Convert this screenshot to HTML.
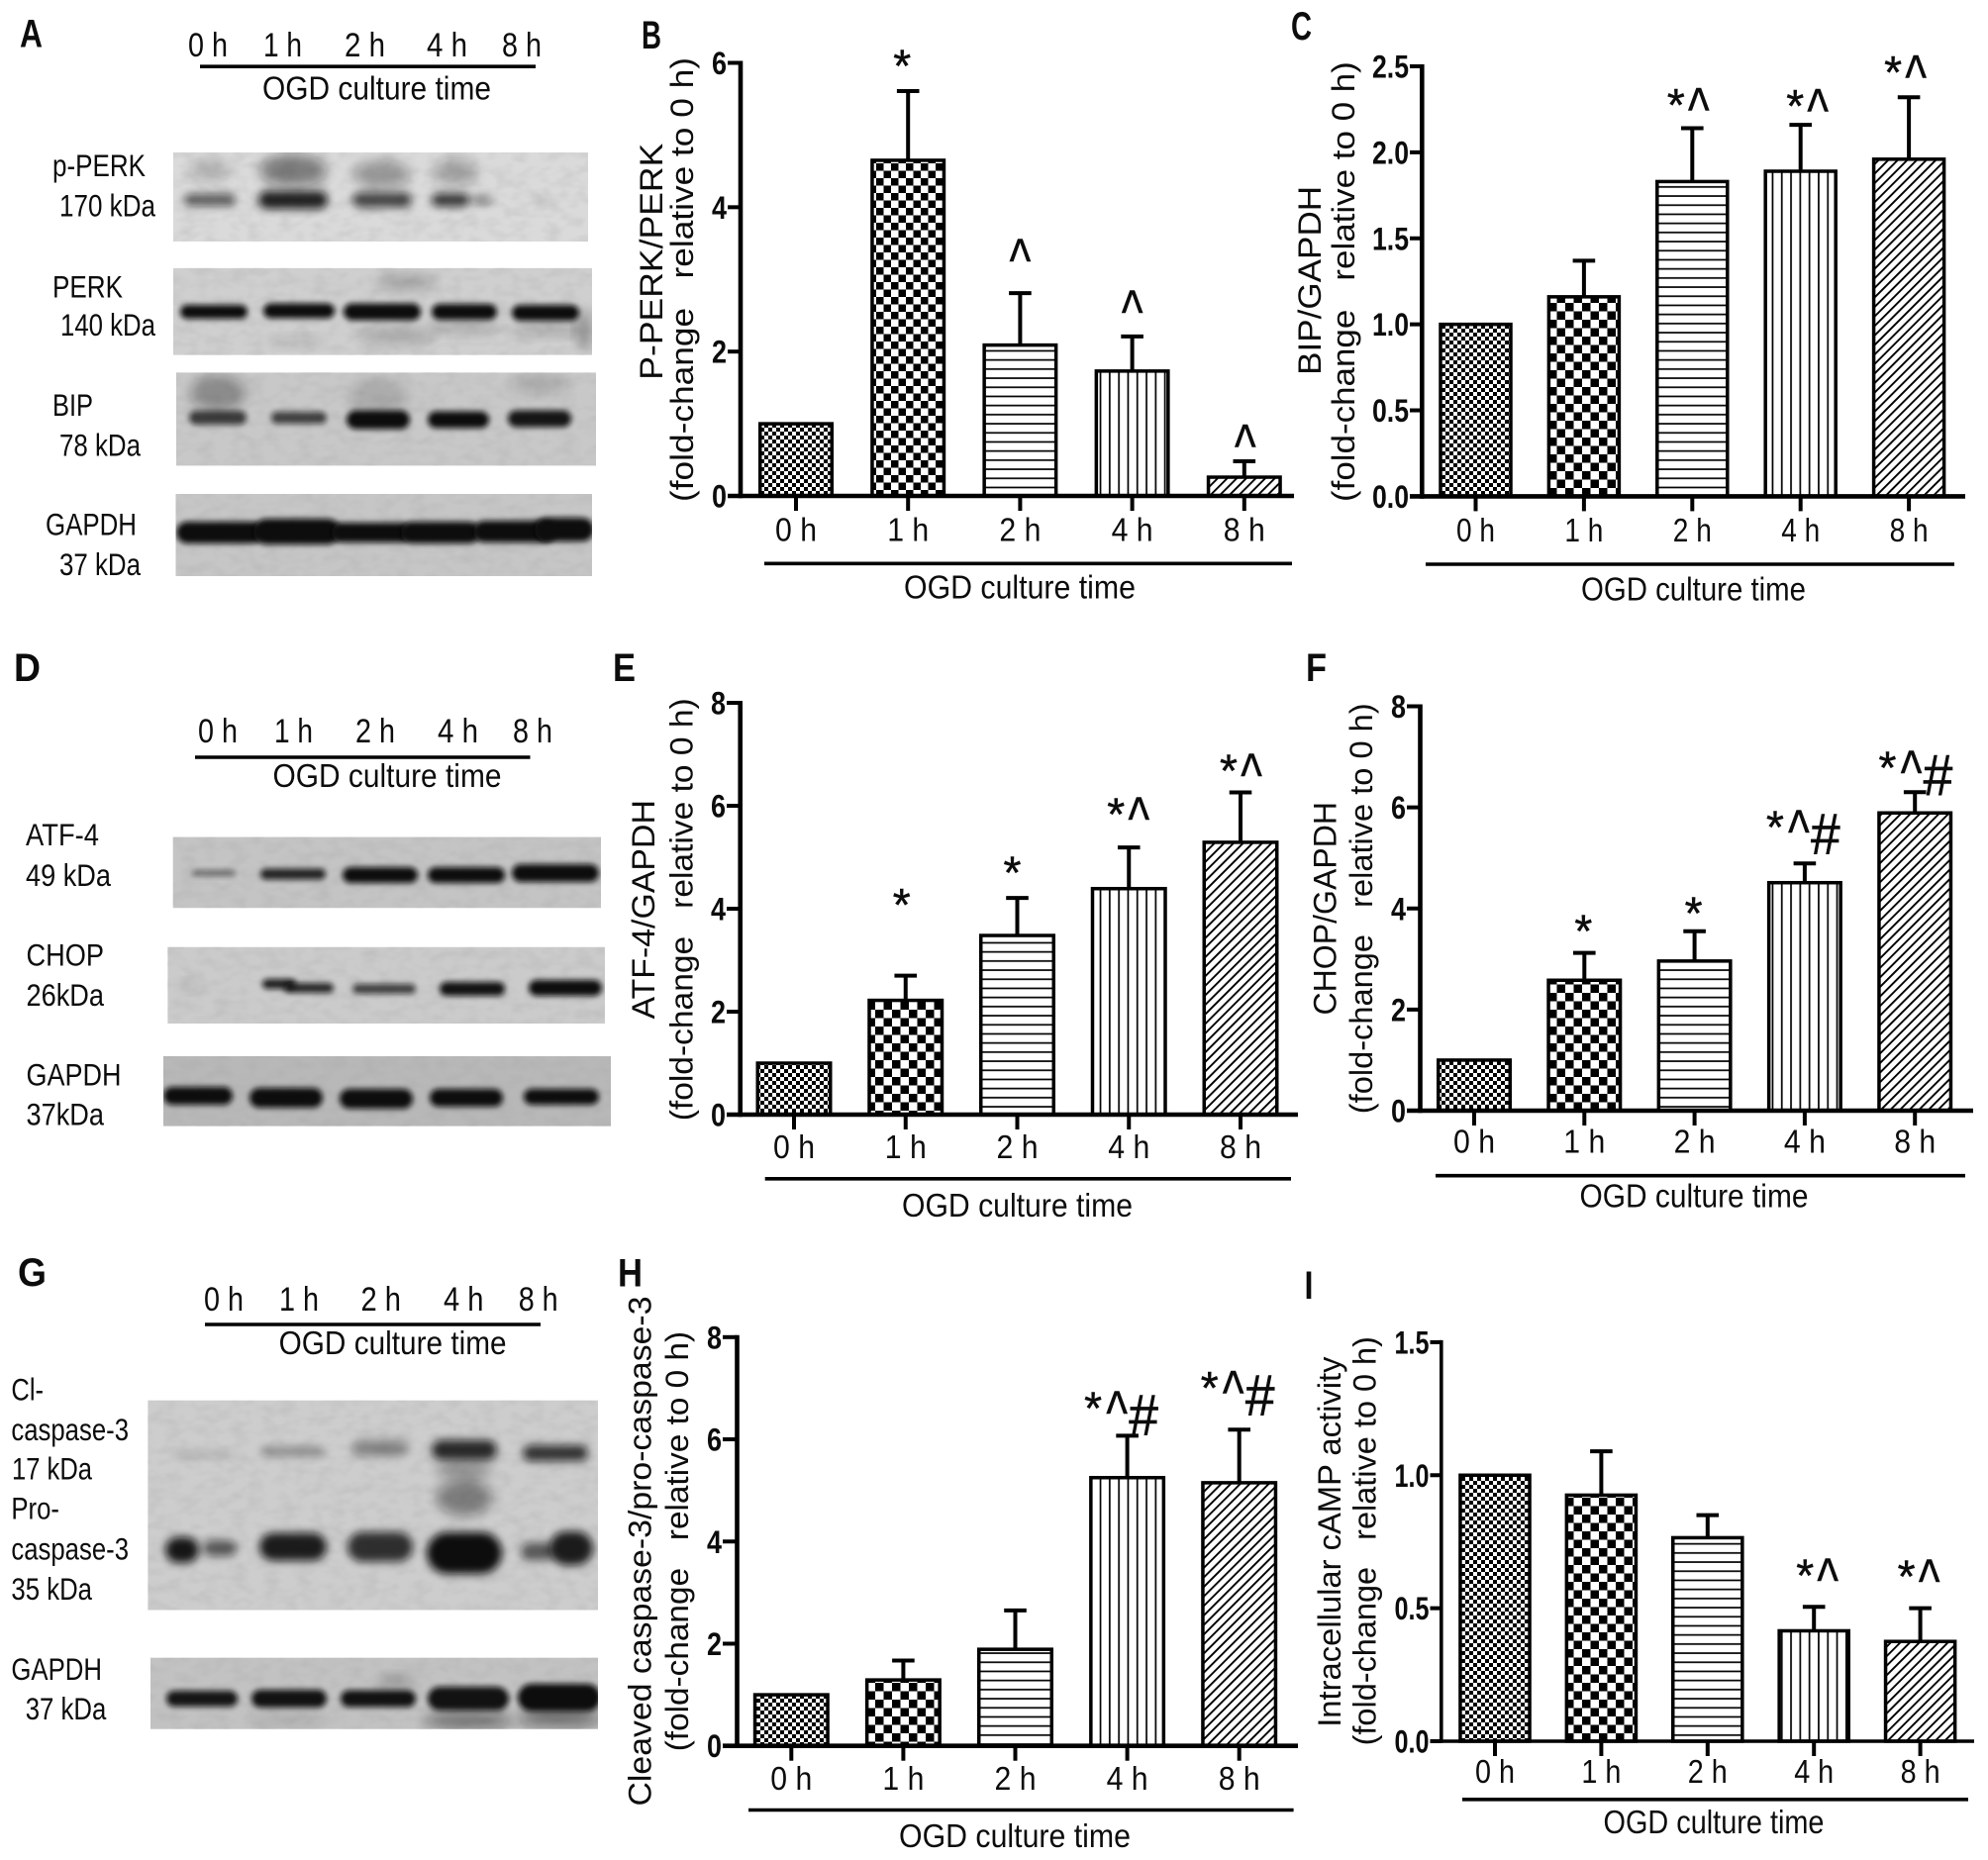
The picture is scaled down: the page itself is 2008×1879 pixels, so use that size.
<!DOCTYPE html>
<html lang="en">
<head>
<meta charset="utf-8">
<title>OGD culture time western blots and quantification</title>
<style>
html,body{margin:0;padding:0;background:#fff;}
svg{display:block;}
text{font-family:"Liberation Sans",sans-serif;fill:#0c0c0c;white-space:pre;}
.letter{font-weight:700;font-size:40px;}
.cat{font-size:34px;}
.ogd{font-size:33.5px;}
.lbl{font-size:31.5px;}
.yt{font-size:32px;}
.xcat{font-size:33.5px;}
.tick{font-size:32px;font-weight:700;}
.rule{stroke:#000;stroke-width:3.6;}
</style>
</head>
<body>
<svg xmlns="http://www.w3.org/2000/svg" width="2008" height="1879" viewBox="0 0 2008 1879">
<defs>
  <pattern id="fine-check" width="8" height="8" patternUnits="userSpaceOnUse">
    <rect width="8" height="8" fill="#fff"/><rect width="4" height="4" fill="#000"/><rect x="4" y="4" width="4" height="4" fill="#000"/>
  </pattern>
  <pattern id="check-small" width="15" height="15" patternUnits="userSpaceOnUse">
    <rect width="15" height="15" fill="#fff"/><rect width="7.5" height="7.5" fill="#000"/><rect x="7.5" y="7.5" width="7.5" height="7.5" fill="#000"/>
  </pattern>
  <pattern id="check-large" width="17" height="17" patternUnits="userSpaceOnUse">
    <rect width="17" height="17" fill="#fff"/><rect width="8.5" height="8.5" fill="#000"/><rect x="8.5" y="8.5" width="8.5" height="8.5" fill="#000"/>
  </pattern>
  <pattern id="h-lines" width="9.2" height="9.2" patternUnits="userSpaceOnUse">
    <rect width="9.2" height="9.2" fill="#fff"/><rect y="4" width="9.2" height="1.7" fill="#000"/>
  </pattern>
  <pattern id="v-lines" width="9.3" height="9.3" patternUnits="userSpaceOnUse">
    <rect width="9.3" height="9.3" fill="#fff"/><rect x="4" width="1.7" height="9.3" fill="#000"/>
  </pattern>
  <pattern id="diag-lines" width="6.8" height="6.8" patternUnits="userSpaceOnUse" patternTransform="rotate(-45)">
    <rect width="6.8" height="6.8" fill="#fff"/><rect y="0" width="6.8" height="1.9" fill="#000"/>
  </pattern>
  <filter id="band-blur" x="-30%" y="-80%" width="160%" height="260%"><feGaussianBlur stdDeviation="3"/></filter>
  <filter id="band-blur-wide" x="-30%" y="-80%" width="160%" height="260%"><feGaussianBlur stdDeviation="4.2"/></filter>
  <filter id="smear-blur" x="-40%" y="-60%" width="180%" height="220%"><feGaussianBlur stdDeviation="6"/></filter>
  <filter id="blot-noise" x="0" y="0" width="100%" height="100%">
    <feTurbulence type="fractalNoise" baseFrequency="0.06 0.1" numOctaves="2" seed="4"/>
    <feColorMatrix type="matrix" values="0 0 0 0 0.35  0 0 0 0 0.35  0 0 0 0 0.35  1.4 0 0 0 -0.55"/>
  </filter>
</defs>
<rect width="2008" height="1879" fill="#fff"/>

<!-- blot images -->
<g id="blot-a1"></g>
<g id="blot-a2"></g>
<g id="blot-a3"></g>
<g id="blot-a4"></g>
<g id="blot-d1"></g>
<g id="blot-d2"></g>
<g id="blot-d3"></g>
<g id="blot-g1"></g>
<g id="blot-g2"></g>

<!-- panel letters -->
<text class="letter" x="20" y="47.4" textLength="23" lengthAdjust="spacingAndGlyphs">A</text>
<text class="letter" x="648" y="49" textLength="20" lengthAdjust="spacingAndGlyphs">B</text>
<text class="letter" x="1304" y="40" textLength="21" lengthAdjust="spacingAndGlyphs">C</text>
<text class="letter" x="14" y="688" textLength="27" lengthAdjust="spacingAndGlyphs">D</text>
<text class="letter" x="619" y="688" textLength="23" lengthAdjust="spacingAndGlyphs">E</text>
<text class="letter" x="1319" y="688" textLength="21" lengthAdjust="spacingAndGlyphs">F</text>
<text class="letter" x="18" y="1299" textLength="29" lengthAdjust="spacingAndGlyphs">G</text>
<text class="letter" x="624" y="1299.5" textLength="25" lengthAdjust="spacingAndGlyphs">H</text>
<text class="letter" x="1317.5" y="1312" textLength="9" lengthAdjust="spacingAndGlyphs">I</text>

<!-- panel A text -->
<g>
  <text class="cat" x="190" y="57" textLength="40" lengthAdjust="spacingAndGlyphs">0 h</text>
  <text class="cat" x="266" y="57" textLength="39" lengthAdjust="spacingAndGlyphs">1 h</text>
  <text class="cat" x="348" y="57" textLength="41" lengthAdjust="spacingAndGlyphs">2 h</text>
  <text class="cat" x="431" y="57" textLength="41" lengthAdjust="spacingAndGlyphs">4 h</text>
  <text class="cat" x="507" y="57" textLength="40" lengthAdjust="spacingAndGlyphs">8 h</text>
  <line class="rule" x1="202" x2="541" y1="67.2" y2="67.2"/>
  <text class="ogd" x="265" y="100.6" textLength="231" lengthAdjust="spacingAndGlyphs">OGD culture time</text>
</g>
<text class="lbl" x="53" y="178" textLength="94" lengthAdjust="spacingAndGlyphs">p-PERK</text>
<text class="lbl" x="60" y="218.7" textLength="97" lengthAdjust="spacingAndGlyphs">170 kDa</text>
<text class="lbl" x="53" y="300.5" textLength="71" lengthAdjust="spacingAndGlyphs">PERK</text>
<text class="lbl" x="61" y="339" textLength="96" lengthAdjust="spacingAndGlyphs">140 kDa</text>
<text class="lbl" x="53" y="420" textLength="41" lengthAdjust="spacingAndGlyphs">BIP</text>
<text class="lbl" x="60" y="460.7" textLength="82" lengthAdjust="spacingAndGlyphs">78 kDa</text>
<text class="lbl" x="46" y="540.5" textLength="92" lengthAdjust="spacingAndGlyphs">GAPDH</text>
<text class="lbl" x="60" y="581" textLength="82" lengthAdjust="spacingAndGlyphs">37 kDa</text>

<!-- panel D text -->
<g>
  <text class="cat" x="200" y="750" textLength="40" lengthAdjust="spacingAndGlyphs">0 h</text>
  <text class="cat" x="277" y="750" textLength="39" lengthAdjust="spacingAndGlyphs">1 h</text>
  <text class="cat" x="359" y="750" textLength="40" lengthAdjust="spacingAndGlyphs">2 h</text>
  <text class="cat" x="442" y="750" textLength="41" lengthAdjust="spacingAndGlyphs">4 h</text>
  <text class="cat" x="518" y="750" textLength="40" lengthAdjust="spacingAndGlyphs">8 h</text>
  <line class="rule" x1="197" x2="535.5" y1="765" y2="765"/>
  <text class="ogd" x="275.5" y="795" textLength="231" lengthAdjust="spacingAndGlyphs">OGD culture time</text>
</g>
<text class="lbl" x="26" y="854.2" textLength="74" lengthAdjust="spacingAndGlyphs">ATF-4</text>
<text class="lbl" x="26" y="894.8" textLength="86" lengthAdjust="spacingAndGlyphs">49 kDa</text>
<text class="lbl" x="26.5" y="975.7" textLength="78.5" lengthAdjust="spacingAndGlyphs">CHOP</text>
<text class="lbl" x="26.5" y="1016" textLength="78.5" lengthAdjust="spacingAndGlyphs">26kDa</text>
<text class="lbl" x="26.5" y="1096.3" textLength="96" lengthAdjust="spacingAndGlyphs">GAPDH</text>
<text class="lbl" x="26.5" y="1136.6" textLength="78.5" lengthAdjust="spacingAndGlyphs">37kDa</text>

<!-- panel G text -->
<g>
  <text class="cat" x="206" y="1324" textLength="40" lengthAdjust="spacingAndGlyphs">0 h</text>
  <text class="cat" x="282" y="1324" textLength="40" lengthAdjust="spacingAndGlyphs">1 h</text>
  <text class="cat" x="364.5" y="1324" textLength="40.5" lengthAdjust="spacingAndGlyphs">2 h</text>
  <text class="cat" x="448" y="1324" textLength="40.5" lengthAdjust="spacingAndGlyphs">4 h</text>
  <text class="cat" x="523.7" y="1324" textLength="40" lengthAdjust="spacingAndGlyphs">8 h</text>
  <line class="rule" x1="207" x2="546" y1="1338" y2="1338"/>
  <text class="ogd" x="281.6" y="1368" textLength="230" lengthAdjust="spacingAndGlyphs">OGD culture time</text>
</g>
<text class="lbl" x="11.4" y="1414.4" textLength="32.6" lengthAdjust="spacingAndGlyphs">Cl-</text>
<text class="lbl" x="11.4" y="1455" textLength="118.6" lengthAdjust="spacingAndGlyphs">caspase-3</text>
<text class="lbl" x="12" y="1494.5" textLength="81" lengthAdjust="spacingAndGlyphs">17 kDa</text>
<text class="lbl" x="11.4" y="1534.6" textLength="48.6" lengthAdjust="spacingAndGlyphs">Pro-</text>
<text class="lbl" x="11.4" y="1575.3" textLength="118.6" lengthAdjust="spacingAndGlyphs">caspase-3</text>
<text class="lbl" x="11.4" y="1616" textLength="81.6" lengthAdjust="spacingAndGlyphs">35 kDa</text>
<text class="lbl" x="11.4" y="1697" textLength="91.6" lengthAdjust="spacingAndGlyphs">GAPDH</text>
<text class="lbl" x="25.7" y="1737.2" textLength="81.6" lengthAdjust="spacingAndGlyphs">37 kDa</text>

<!-- chart B -->
<g id="chart-b">
  <text class="yt" transform="translate(669 383.7) rotate(-90)" textLength="239" lengthAdjust="spacingAndGlyphs">P-PERK/PERK</text>
  <text class="yt" transform="translate(700 507) rotate(-90)" textLength="449" lengthAdjust="spacingAndGlyphs">(fold-change   relative to 0 h)</text>
  <line class="rule" x1="772" x2="1305" y1="569.3" y2="569.3"/>
  <text class="ogd" x="913" y="604.7" textLength="234" lengthAdjust="spacingAndGlyphs">OGD culture time</text>
</g>
<!-- chart C -->
<g id="chart-c">
  <text class="yt" transform="translate(1334 378.9) rotate(-90)" textLength="191" lengthAdjust="spacingAndGlyphs">BIP/GAPDH</text>
  <text class="yt" transform="translate(1368 507) rotate(-90)" textLength="444.8" lengthAdjust="spacingAndGlyphs">(fold-change   relative to 0 h)</text>
  <line class="rule" x1="1440" x2="1974" y1="570" y2="570"/>
  <text class="ogd" x="1597" y="606.7" textLength="227" lengthAdjust="spacingAndGlyphs">OGD culture time</text>
</g>
<!-- chart E -->
<g id="chart-e">
  <text class="yt" transform="translate(661 1029.5) rotate(-90)" textLength="221.4" lengthAdjust="spacingAndGlyphs">ATF-4/GAPDH</text>
  <text class="yt" transform="translate(699.5 1132.3) rotate(-90)" textLength="427" lengthAdjust="spacingAndGlyphs">(fold-change   relative to 0 h)</text>
  <line class="rule" x1="772.7" x2="1304" y1="1190.8" y2="1190.8"/>
  <text class="ogd" x="911" y="1229.2" textLength="233" lengthAdjust="spacingAndGlyphs">OGD culture time</text>
</g>
<!-- chart F -->
<g id="chart-f">
  <text class="yt" transform="translate(1349.7 1025.5) rotate(-90)" textLength="215.5" lengthAdjust="spacingAndGlyphs">CHOP/GAPDH</text>
  <text class="yt" transform="translate(1385.8 1125.2) rotate(-90)" textLength="414.8" lengthAdjust="spacingAndGlyphs">(fold-change   relative to 0 h)</text>
  <line class="rule" x1="1450" x2="1985" y1="1187.7" y2="1187.7"/>
  <text class="ogd" x="1595.5" y="1219.3" textLength="231" lengthAdjust="spacingAndGlyphs">OGD culture time</text>
</g>
<!-- chart H -->
<g id="chart-h">
  <text class="yt" transform="translate(657.5 1824.5) rotate(-90)" textLength="515" lengthAdjust="spacingAndGlyphs">Cleaved caspase-3/pro-caspase-3</text>
  <text class="yt" transform="translate(695 1769.3) rotate(-90)" textLength="424.4" lengthAdjust="spacingAndGlyphs">(fold-change   relative to 0 h)</text>
  <line class="rule" x1="756" x2="1306.6" y1="1828.5" y2="1828.5"/>
  <text class="ogd" x="908" y="1866" textLength="234" lengthAdjust="spacingAndGlyphs">OGD culture time</text>
</g>
<!-- chart I -->
<g id="chart-i">
  <text class="yt" transform="translate(1354 1744.8) rotate(-90)" textLength="374.3" lengthAdjust="spacingAndGlyphs">Intracellular cAMP activity</text>
  <text class="yt" transform="translate(1389.4 1763.4) rotate(-90)" textLength="413.3" lengthAdjust="spacingAndGlyphs">(fold-change   relative to 0 h)</text>
  <line class="rule" x1="1477" x2="1988" y1="1817.8" y2="1817.8"/>
  <text class="ogd" x="1619.5" y="1852.2" textLength="223" lengthAdjust="spacingAndGlyphs">OGD culture time</text>
</g>
</svg>

<script>
// ---- chart data ----
const categories = ['0 h', '1 h', '2 h', '4 h', '8 h'];

const ticksB = ['0', '2', '4', '6'];
const valuesB = [1, 4.65, 2.09, 1.73, 0.26];
const errorsB = [0, 0.96, 0.72, 0.48, 0.22];
const marksB = ['', '*', '^', '^', '^'];

const ticksC = ['0.0', '0.5', '1.0', '1.5', '2.0', '2.5'];
const valuesC = [1, 1.16, 1.83, 1.89, 1.96];
const errorsC = [0, 0.21, 0.31, 0.27, 0.36];
const marksC = ['', '', '*^', '*^', '*^'];

const ticksE = ['0', '2', '4', '6', '8'];
const valuesE = [1, 2.22, 3.48, 4.39, 5.29];
const errorsE = [0, 0.48, 0.73, 0.8, 0.97];
const marksE = ['', '*', '*', '*^', '*^'];

const ticksF = ['0', '2', '4', '6', '8'];
const valuesF = [1, 2.58, 2.96, 4.51, 5.89];
const errorsF = [0, 0.54, 0.59, 0.38, 0.41];
const marksF = ['', '*', '*', '*^#', '*^#'];

const ticksH = ['0', '2', '4', '6', '8'];
const valuesH = [1, 1.29, 1.89, 5.25, 5.15];
const errorsH = [0, 0.38, 0.76, 0.82, 1.04];
const marksH = ['', '', '', '*^#', '*^#'];

const ticksI = ['0.0', '0.5', '1.0', '1.5'];
const valuesI = [1, 0.925, 0.765, 0.415, 0.375];
const errorsI = [0, 0.165, 0.085, 0.09, 0.125];
const marksI = ['', '', '', '*^', '*^'];

const SVG_NS = 'http://www.w3.org/2000/svg';
const fills = ['fine-check', null, 'h-lines', 'v-lines', 'diag-lines'];

function make(tag, attrs) {
  const el = document.createElementNS(SVG_NS, tag);
  for (const k in attrs) el.setAttribute(k, attrs[k]);
  return el;
}

function drawMarkGlyphs(parent, cx, bottom, text) {
  const hasHash = text.indexOf('#') >= 0;
  const base = hasHash ? bottom - 20 : bottom;
  let starX = cx, starBase = base + 12.3, caretX = cx;
  if (text === '*^') { starX = cx - 13; starBase = base + 8.8; caretX = cx + 10; }
  if (hasHash) { starX = cx - 30; starBase = base + 8.8; caretX = cx - 6; }
  for (const ch of text) {
    let el;
    if (ch === '*') {
      el = make('text', { x: starX, y: starBase, 'text-anchor': 'middle', 'font-size': 46, stroke: '#0c0c0c', 'stroke-width': 0.5 });
    } else if (ch === '^') {
      el = make('text', { transform: 'translate(' + caretX + ' ' + (base + 18.8) + ') scale(1 1.35)', 'text-anchor': 'middle', 'font-size': 46, stroke: '#0c0c0c', 'stroke-width': 0.4 });
    } else {
      el = make('text', { transform: 'translate(' + (cx + 21) + ' ' + bottom + ') scale(0.92 1)', 'text-anchor': 'middle', 'font-size': 58, stroke: '#0c0c0c', 'stroke-width': 0.6 });
    }
    
    
    el.textContent = ch;
    parent.appendChild(el);
  }
}

function drawChart(id, ticks, values, errors, marks, L) {
  const root = document.getElementById(id);
  const yScale = function (v) { return L.y0 - (v / L.yMax) * (L.y0 - L.yTop); };
  const xScale = function (i) { return L.c0 + i * L.step; };

  values.forEach(function (v, i) {
    const cx = xScale(i);
    const top = yScale(v + errors[i]);
    if (errors[i] > 0) {
      const stem = make('line', { x1: cx, x2: cx, y1: top, y2: yScale(v), stroke: '#000', 'stroke-width': 4 });
      
      
      root.appendChild(stem);
      const cap = make('line', { x1: cx - 11.3, x2: cx + 11.3, y1: top, y2: top, stroke: '#000', 'stroke-width': 4 });
      
      
      root.appendChild(cap);
    }
    const fill = fills[i] || L.check;
    const bar = make('rect', {
      x: cx - L.barW / 2 + 1.75, y: yScale(v), width: L.barW - 3.5, height: L.y0 - yScale(v),
      fill: 'url(#' + fill + ')', stroke: '#000', 'stroke-width': 3.5
    });
    
    
    root.appendChild(bar);
    if (marks[i]) {
      const off = L.markOffsets[i];
      drawMarkGlyphs(root, cx + off[0], top - off[1], marks[i]);
    }
  });

  const yAxis = make('line', { x1: L.x, x2: L.x, y1: L.yTop - 2, y2: L.y0 + L.axisW / 2, stroke: '#000', 'stroke-width': L.axisW });
  
  
  root.appendChild(yAxis);

  const xAxis = make('line', { x1: L.tickL, x2: L.axisR, y1: L.y0, y2: L.y0, stroke: '#000', 'stroke-width': L.axisW });
  
  
  root.appendChild(xAxis);

  ticks.forEach(function (label) {
    const y = yScale(parseFloat(label));
    const t = make('line', { x1: L.tickL, x2: L.x, y1: y, y2: y, stroke: '#000', 'stroke-width': 4 });
    
    
    root.appendChild(t);
    const w = label.length === 1 ? 15 : L.tickW;
    const txt = make('text', {
      x: L.tickL - 1 - w, y: y + 11.5, class: 'tick',
      textLength: w, lengthAdjust: 'spacingAndGlyphs'
    });
    
    
    txt.textContent = label;
    root.appendChild(txt);
  });

  categories.forEach(function (label, i) {
    const cx = xScale(i);
    const t = make('line', { x1: cx, x2: cx, y1: L.y0, y2: L.y0 + 15, stroke: '#000', 'stroke-width': 4 });
    
    
    root.appendChild(t);
    const txt = make('text', {
      x: cx - L.catW / 2, y: L.catBase, class: 'xcat',
      textLength: L.catW, lengthAdjust: 'spacingAndGlyphs'
    });
    
    
    txt.textContent = label;
    root.appendChild(txt);
  });
}

drawChart('chart-b', ticksB, valuesB, errorsB, marksB, {
  x: 748, yTop: 63.5, y0: 501, yMax: 6, c0: 804, step: 113.2, barW: 76, axisR: 1307, tickL: 735,
  axisW: 4.6, tickW: 37, catW: 42, catBase: 546.4, check: 'check-small',
  markOffsets: [[0, 0], [-6, 21.6], [0, 30.6], [0, 22], [1, 12.6]]
});
drawChart('chart-c', ticksC, valuesC, errorsC, marksC, {
  x: 1436.3, yTop: 67, y0: 501.4, yMax: 2.5, c0: 1490.5, step: 109.4, barW: 74.5, axisR: 1985, tickL: 1424,
  axisW: 4.6, tickW: 37, catW: 39, catBase: 547, check: 'check-large',
  markOffsets: [[0, 0], [0, 0], [-3.5, 16.2], [7.5, 11.7], [-3, 18]]
});
drawChart('chart-e', ticksE, valuesE, errorsE, marksE, {
  x: 747.7, yTop: 710, y0: 1126, yMax: 8, c0: 802, step: 112.75, barW: 77, axisR: 1311, tickL: 734,
  axisW: 4.6, tickW: 37, catW: 42, catBase: 1169.9, check: 'check-large',
  markOffsets: [[0, 0], [-4, 68], [-5, 21.7], [0, 26.6], [1, 15]]
});
drawChart('chart-f', ticksF, valuesF, errorsF, marksF, {
  x: 1434.5, yTop: 713.5, y0: 1122, yMax: 8, c0: 1489, step: 111.3, barW: 76, axisR: 1993, tickL: 1421,
  axisW: 4.6, tickW: 37, catW: 42, catBase: 1164.7, check: 'check-large',
  markOffsets: [[0, 0], [-1, 18.4], [-1, 14.3], [0, 9.6], [2.3, -2.6]]
});
drawChart('chart-h', ticksH, valuesH, errorsH, marksH, {
  x: 744.5, yTop: 1350.8, y0: 1763.7, yMax: 8, c0: 799.3, step: 113.1, barW: 77, axisR: 1311, tickL: 730,
  axisW: 4.6, tickW: 37, catW: 42, catBase: 1808, check: 'check-large',
  markOffsets: [[0, 0], [0, 0], [0, 0], [-4.5, 0.9], [0, 14.8]]
});
drawChart('chart-i', ticksI, valuesI, errorsI, marksI, {
  x: 1455.8, yTop: 1355.9, y0: 1759, yMax: 1.5, c0: 1510, step: 107.4, barW: 73.6, axisR: 1994, tickL: 1444.5,
  axisW: 3.6, tickW: 35, catW: 40, catBase: 1800.9, check: 'check-large',
  markOffsets: [[0, 0], [0, 0], [0, 0], [4, 24.5], [-1, 25]]
});

// ---- blot image sketches (not chart data) ----
const blotLayouts = [
  { id: 'blot-a1', x: 175, y: 154, w: 419, h: 90, bg: '#dadada', blur: 'band-blur-wide', smears: [[212,172,20,12,.18],[296,172,34,16,.45],[386,176,28,14,.32],[460,174,22,14,.26]],
    bands: [[212,202,26,6,.62],[296,202,35,9,.9],[386,202,30,7.5,.72],[455,202,19,6.5,.8],[486,202,11,4.5,.4],[551,204,12,3,.12]] },
  { id: 'blot-a2', x: 175, y: 270.9, w: 423, h: 87.7, bg: '#cfcfcf', blur: 'band-blur', smears: [[400,339,40,9,.18],[470,330,35,6,.2],[551,333,35,6,.2],[300,345,30,5,.12],[590,333,8,20,.3],[410,285,30,8,.22]],
    bands: [[216,315,34,7,1],[302,314,36,7.5,1],[386,315,39,8.5,1],[469,315,33,8,1],[551,316,34,8,1]] },
  { id: 'blot-a3', x: 178, y: 376.4, w: 424, h: 94, bg: '#c8c8c8', blur: 'band-blur', smears: [[220,397,28,18,.32],[382,400,30,18,.15],[545,388,30,10,.15]],
    bands: [[220,422,29,7,.75],[302,422,28,6,.72],[382,424,32,9.5,1],[463,424,31,8.5,1],[545,423,32,8.5,.95]] },
  { id: 'blot-a4', x: 177.5, y: 499, w: 420.5, h: 83, bg: '#c6c6c6', blur: 'band-blur', smears: [],
    bands: [[222,538,44,11,1],[300,537,44,13,1],[375,538,40,10,1],[445,538,40,11,1],[520,537,42,11,1],[570,535,30,12,1]] },
  { id: 'blot-d1', x: 174.7, y: 845.6, w: 432.3, h: 71.6, bg: '#c4c4c4', blur: 'band-blur', smears: [],
    bands: [[216,882,22,3,.5],[296,883,33,5.5,.88],[384,884,38,8,1],[471,884,39,8,1],[561,882,44,9,1]] },
  { id: 'blot-d2', x: 169.4, y: 956.8, w: 441.6, h: 77.2, bg: '#cbcbcb', blur: 'band-blur', smears: [[192,996,14,5,.08]],
    bands: [[282,994,17,5,.9],[312,998,25,5,.85],[388,999,32,5,.72],[477,999,33,7,.97],[571,998,37,8,1]] },
  { id: 'blot-d3', x: 165, y: 1067, w: 452, h: 70.6, bg: '#b8b8b8', blur: 'band-blur', smears: [],
    bands: [[200,1107,35,9,1],[289,1109,37,10,1],[380,1110,37,10,1],[471,1109,37,9,1],[567,1108,38,8,1]] },
  { id: 'blot-g1', x: 149.4, y: 1414.7, w: 454.6, h: 211.8, bg: '#cdcdcd', blur: 'band-blur-wide', smears: [[469,1513,28,18,.42],[469,1484.5,28,10,.3],[384,1459,28,8,.12]],
    bands: [[204,1469,30,3.5,.14],[296,1466.5,32,5,.32],[384,1463.8,28,7,.33],[469,1464.8,33,10,.85],[561,1468,33,8,.8],
            [184,1565.7,17,13,.95],[222,1564,17,8,.6],[296,1562.6,34,14,.92],[384,1562.6,33,15,.82],[469,1568.9,38,21,1],[543,1567.4,17,9,.6],[577,1564,22,17,.92]] },
  { id: 'blot-g2', x: 152, y: 1674.7, w: 452, h: 72, bg: '#c2c2c2', blur: 'band-blur', smears: [[473,1738,45,8,.45],[565,1735.6,42,9,.45],[400,1699,18,6,.25],[290,1738,40,5,.12]],
    bands: [[204,1716,36,8,.95],[292,1716,38,9,.97],[382,1716,38,8.5,.97],[473,1716,41,12,.97],[565,1715,42,14,1]] }
];

blotLayouts.forEach(function (b) {
  const g = document.getElementById(b.id);
  const bg = make('rect', { x: b.x, y: b.y, width: b.w, height: b.h, fill: b.bg });
  
  
  g.appendChild(bg);
  const noise = make('rect', { x: b.x, y: b.y, width: b.w, height: b.h, filter: 'url(#blot-noise)', opacity: 0.35 });
  
  
  g.appendChild(noise);
  const clipId = b.id + '-clip';
  const clip = make('clipPath', { id: clipId });
  clip.appendChild(make('rect', { x: b.x, y: b.y, width: b.w, height: b.h }));
  g.appendChild(clip);
  const inner = make('g', { 'clip-path': 'url(#' + clipId + ')' });
  g.appendChild(inner);
  b.smears.forEach(function (s) {
    const e = make('ellipse', { cx: s[0], cy: s[1], rx: s[2], ry: s[3], fill: '#111', opacity: s[4], filter: 'url(#smear-blur)' });
    
    
    inner.appendChild(e);
  });
  b.bands.forEach(function (s) {
    const e = make('rect', { x: s[0] - s[2], y: s[1] - s[3], width: 2 * s[2], height: 2 * s[3], rx: s[3], ry: s[3], fill: '#0a0a0a', opacity: s[4], filter: 'url(#' + b.blur + ')' });
    
    
    inner.appendChild(e);
  });
});
</script>
</body>
</html>
